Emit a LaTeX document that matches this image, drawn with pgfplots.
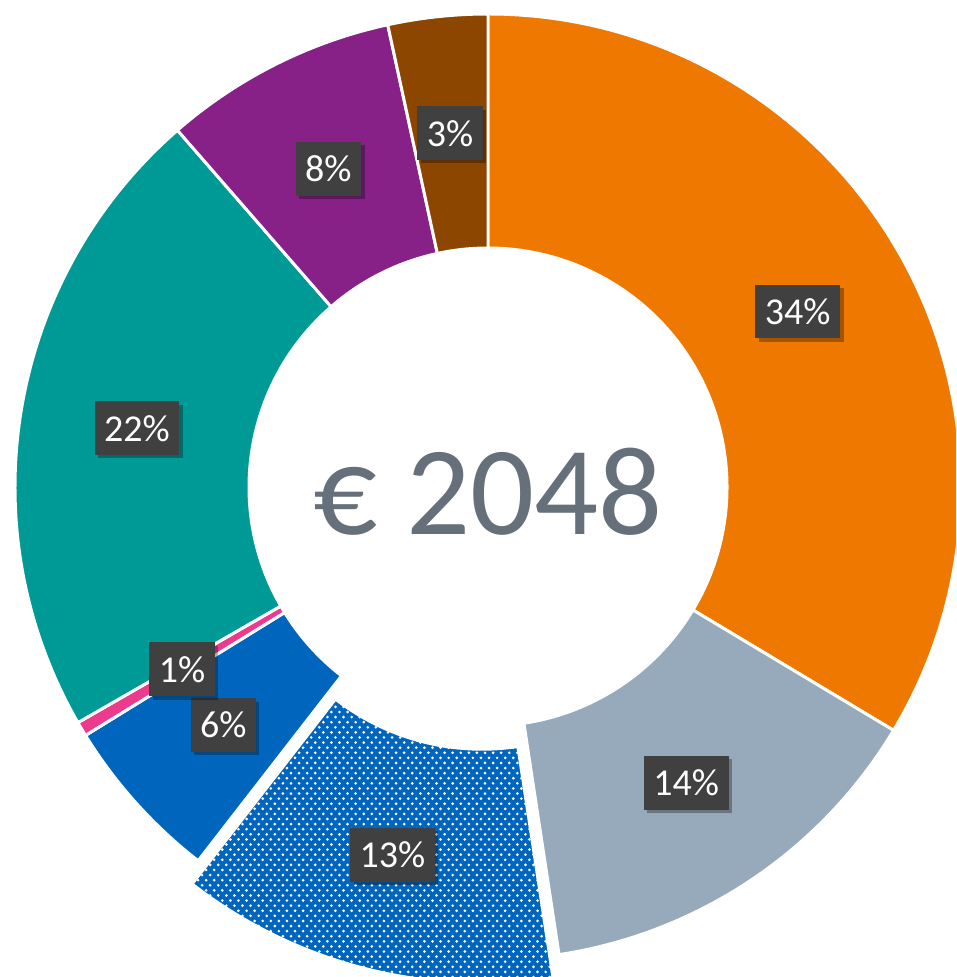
\documentclass[border=0pt]{standalone}
\usepackage{pgfplots}
\pgfplotsset{compat=1.18}
\usepackage{pgfplotstable}
\usepackage{fontspec}
\setmainfont{Carlito}
\usetikzlibrary{patterns,shadows}

\definecolor{cOrange}{HTML}{EF7800}
\definecolor{cGrey}{HTML}{97AABB}
\definecolor{cBlue}{HTML}{0066BD}
\definecolor{cPink}{HTML}{EC3A8C}
\definecolor{cTeal}{HTML}{009A96}
\definecolor{cPurple}{HTML}{872187}
\definecolor{cBrown}{HTML}{8C4600}
\definecolor{boxgray}{HTML}{404040}
\definecolor{centergray}{HTML}{66707A}

\pgfdeclarepatternformonly{softdots}{\pgfqpoint{-0.5pt}{-0.5pt}}{\pgfqpoint{1.75pt}{2.3pt}}{\pgfqpoint{2.3pt}{2.9pt}}{%
  \pgfpathcircle{\pgfqpoint{0pt}{0pt}}{0.42pt}%
  \pgfpathcircle{\pgfqpoint{1.15pt}{1.45pt}}{0.42pt}%
  \pgfusepath{fill}}

\tikzset{
  lbl/.style={fill=boxgray, text=white, font=\fontsize{10.8}{12}\selectfont,
    inner xsep=2.7pt, inner ysep=0pt, minimum height=15.3pt,
    text height=7.4pt, text depth=0pt,
    drop shadow={shadow xshift=1pt, shadow yshift=-1pt, opacity=0.3, fill=black}},
}

% share in percent, label, colour, explode offset (px), patterned
\pgfplotstableread{
val lab col off pat
33.6 34 cOrange 0 0
14.0 14 cGrey 0 0
12.9 13 cBlue 24 1
5.7 6 cBlue 0 0
0.5 1 cPink 0 0
21.9 22 cTeal 0 0
8.0 8 cPurple 0 0
3.4 3 cBrown 0 0
}\piedata

\def\Rout{473}
\def\Rin{239}
\def\Rlab{356}

\begin{document}
\begin{tikzpicture}
\begin{axis}[
  name=ax,
  x=0.1mm, y=0.1mm,
  xmin=-488, xmax=468, ymin=-490, ymax=487,
  hide axis, clip=true,
]
\pgfplotstablegetrowsof{\piedata}
\pgfmathtruncatemacro{\nrows}{\pgfplotsretval-1}

% slices
\def\cum{0}
\pgfplotsforeachungrouped \i in {0,...,\nrows}{
  \pgfplotstablegetelem{\i}{val}\of\piedata \let\v\pgfplotsretval
  \pgfplotstablegetelem{\i}{col}\of\piedata \let\c\pgfplotsretval
  \pgfplotstablegetelem{\i}{off}\of\piedata \let\o\pgfplotsretval
  \pgfplotstablegetelem{\i}{pat}\of\piedata \let\p\pgfplotsretval
  \pgfmathsetmacro\aS{90-3.6*\cum}
  \pgfmathsetmacro\aE{90-3.6*(\cum+\v)}
  \pgfmathsetmacro\aM{(\aS+\aE)/2}
  \pgfmathsetmacro\xA{\o*cos(\aM)+\Rout*cos(\aS)}
  \pgfmathsetmacro\yA{\o*sin(\aM)+\Rout*sin(\aS)}
  \pgfmathsetmacro\xB{\o*cos(\aM)+\Rin*cos(\aE)}
  \pgfmathsetmacro\yB{\o*sin(\aM)+\Rin*sin(\aE)}
  \ifnum\p=1 \def\sty{postaction={pattern=softdots, pattern color=white}}\else\def\sty{}\fi
  \edef\temp{\noexpand\path[fill=\c, draw=white, line width=0.85pt, \sty]
    (axis cs:\xA,\yA) arc[start angle=\aS, end angle=\aE, radius=47.3mm]
    -- (axis cs:\xB,\yB) arc[start angle=\aE, end angle=\aS, radius=23.9mm] -- cycle;}
  \temp
  \pgfmathsetmacro\cum{\cum+\v}
}

% data labels
\def\cum{0}
\pgfplotsforeachungrouped \i in {0,...,\nrows}{
  \pgfplotstablegetelem{\i}{val}\of\piedata \let\v\pgfplotsretval
  \pgfplotstablegetelem{\i}{lab}\of\piedata \let\l\pgfplotsretval
  \pgfplotstablegetelem{\i}{off}\of\piedata \let\o\pgfplotsretval
  \pgfmathsetmacro\aM{90-3.6*(\cum+\v/2)}
  \pgfmathsetmacro\xL{(\o+\Rlab)*cos(\aM)}
  \pgfmathsetmacro\yL{(\o+\Rlab)*sin(\aM)}
  \edef\temp{\noexpand\node[lbl] at (axis cs:\xL,\yL) {\l\%};}
  \temp
  \pgfmathsetmacro\cum{\cum+\v}
}

\node[text=centergray, font=\fontsize{36}{40}\selectfont, inner sep=0pt,
  text depth=0pt] at (axis cs:0,-4) {€ 2048};
\end{axis}
\pgfresetboundingbox
\path[use as bounding box] (ax.south west) rectangle (ax.north east);
\end{tikzpicture}
\end{document}
